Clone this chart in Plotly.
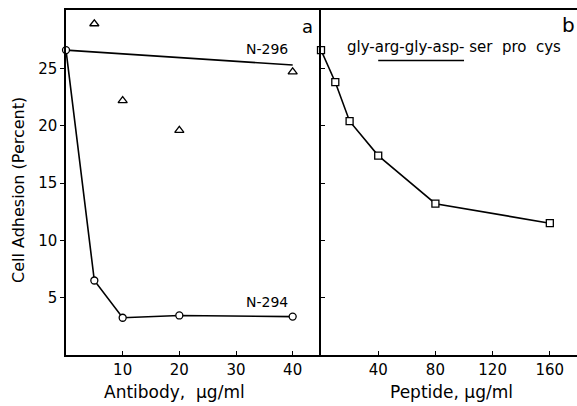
import plotly.graph_objects as go

W, H = 577, 406

# ---- data ----
antibody_tri_x = [5, 10, 20, 40]
antibody_tri_y = [28.9, 22.2, 19.6, 24.7]
n296_line_x = [0, 40]
n296_line_y = [26.6, 25.3]
n294_x = [0, 5, 10, 20, 40]
n294_y = [26.6, 6.5, 3.25, 3.45, 3.35]
peptide_x = [0, 10, 20, 40, 80, 160]
peptide_y = [26.6, 23.8, 20.4, 17.4, 13.2, 11.5]
y_ticks = [5, 10, 15, 20, 25]
ab_ticks = [10, 20, 30, 40]
pep_ticks = [40, 80, 120, 160]

FONT = "DejaVu Sans, Liberation Sans, sans-serif"

def px(x):
    return x / W

def py(y):
    return 1 - y / H

fig = go.Figure()

mk = dict(color="white", line=dict(color="black", width=1.3))

fig.add_trace(go.Scatter(x=n296_line_x, y=n296_line_y, mode="lines",
                         line=dict(color="black", width=1.6),
                         xaxis="x", yaxis="y", showlegend=False, hoverinfo="skip"))
fig.add_trace(go.Scatter(x=n294_x, y=n294_y, mode="lines+markers",
                         line=dict(color="black", width=1.6),
                         marker=dict(symbol="circle", size=7, **mk),
                         xaxis="x", yaxis="y", showlegend=False, cliponaxis=False))
fig.add_trace(go.Scatter(x=antibody_tri_x, y=antibody_tri_y, mode="markers",
                         marker=dict(symbol="triangle-up", size=8, **mk),
                         xaxis="x", yaxis="y", showlegend=False, cliponaxis=False))
fig.add_trace(go.Scatter(x=peptide_x, y=peptide_y, mode="lines+markers",
                         line=dict(color="black", width=1.6),
                         marker=dict(symbol="square", size=7, **mk),
                         xaxis="x2", yaxis="y2", showlegend=False, cliponaxis=False))

axis_common = dict(showgrid=False, zeroline=False, showline=True, linecolor="black",
                   linewidth=1.5, ticks="inside", ticklen=4, tickcolor="black",
                   tickfont=dict(family=FONT, size=15, color="black"))

xl0, xl1, xr1 = 66, 321, 577
yt, yb = 10, 355

fig.update_layout(
    width=W, height=H,
    margin=dict(l=0, r=0, t=0, b=0),
    paper_bgcolor="white", plot_bgcolor="white",
    xaxis=dict(domain=[px(xl0), px(xl1)], range=[0, 45], tickvals=ab_ticks,
               mirror=True, anchor="y", **axis_common),
    yaxis=dict(domain=[py(yb), py(yt)], range=[0, 30.1], tickvals=y_ticks,
               anchor="x", **{**axis_common, "ticks": "outside"}),
    xaxis2=dict(domain=[px(xl1), px(xr1)], range=[0, 179], tickvals=pep_ticks,
                mirror=True, anchor="y2", **axis_common),
    yaxis2=dict(domain=[py(yb), py(yt)], range=[0, 30.1], tickvals=y_ticks,
                showticklabels=False, anchor="x2", **axis_common),
)

ann = []
def add_text(x, y, text, size=14, angle=0):
    ann.append(dict(x=px(x), y=py(y), xref="paper", yref="paper", text=text,
                    showarrow=False, textangle=angle,
                    font=dict(family=FONT, size=size, color="black"),
                    xanchor="center", yanchor="middle"))

add_text(18, 190, "Cell Adhesion (Percent)", size=16, angle=-90)
add_text(174, 392, "Antibody,  μg/ml", size=17)
add_text(451, 392, "Peptide, μg/ml", size=17)
add_text(267, 49, "N-296", size=14)
add_text(267, 302, "N-294", size=14)
add_text(307, 26, "a", size=18)
add_text(568, 25, "b", size=20)
add_text(454, 47, "gly-arg-gly-asp- ser  pro  cys", size=15)
fig.update_layout(annotations=ann)

fig.add_shape(type="line", xref="x2", yref="y2", x0=40, x1=100, y0=25.7, y1=25.7,
              line=dict(color="black", width=1.5))

fig.write_html("out.html")
